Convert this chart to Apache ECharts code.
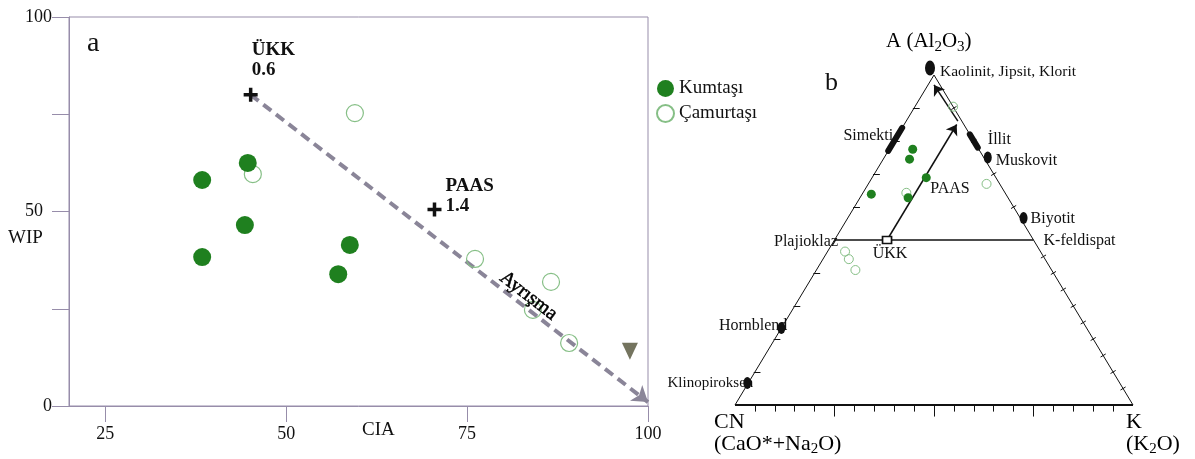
<!DOCTYPE html>
<html>
<head>
<meta charset="utf-8">
<script src="https://cdn.jsdelivr.net/npm/echarts@6/dist/echarts.min.js"></script>
<style>
  html, body { margin: 0; padding: 0; background: #ffffff; }
  #chart { width: 1195px; height: 459px; }
</style>
</head>
<body>
<div id="chart"></div>
<script>
// ---- Panel a: CIA vs WIP ----
const kumtasiCIA = [38.4, 44.7, 44.3, 38.4, 58.8, 57.2];
const kumtasiWIP = [58.1, 62.5, 46.5, 38.3, 41.4, 33.9];
const camurtasiCIA = [59.5, 45.4, 76.1, 86.6, 84.1, 89.1];
const camurtasiWIP = [75.3, 59.6, 37.8, 31.9, 24.7, 16.2];
const referenceNames = ['ÜKK', 'PAAS'];
const referenceValues = ['0.6', '1.4'];
const referenceCIA = [45.1, 70.5];
const referenceWIP = [80, 50.5];
const weatheringTrend = [[45.1, 80], [100, 1]];
const weatheringLabelAt = [83.5, 28.3];
const triangleMarker = [97.5, 14.1];
const ciaTicks = [25, 50, 75, 100];
const wipTicks = [0, 25, 50, 75, 100];
const wipLabels = [0, 50, 100];

// ---- Panel b: A-CN-K ternary, compositions as [A, CN, K] ----
const kumtasiACNK = [[77.5, 16.6, 5.9], [74.5, 18.9, 6.6], [68.9, 17.5, 13.6], [63.9, 33.8, 2.3], [62.8, 25.1, 12.1]];
const camurtasiACNK = [[64.3, 24.8, 10.9], [90.4, 0, 9.6], [67, 3.3, 29.7], [46.5, 49.1, 4.4], [44.2, 49.3, 6.5], [40.9, 49.3, 9.8]];
const mineralNames = ['Kaolinit, Jipsit, Klorit', 'Muskovit', 'Biyotit', 'Hornblend', 'Klinopiroksen'];
const mineralACNK = [[100, 0, 0], [75, 0, 25], [57, 0, 43], [23.3, 76.7, 0], [6.7, 93.3, 0]];
const barNames = ['Simekti', 'İllit'];
const barACNK = [[[77, 23, 0], [84, 16, 0]], [[78, 0, 22], [82, 0, 18]]];
const feldsparNames = ['Plajioklaz', 'K-feldispat'];
const feldsparACNK = [[50, 50, 0], [50, 0, 50]];
const ukkACNK = [50, 36.8, 13.2];
const paasLabelACNK = [65.5, 18.2, 16.3];
const trendACNK = [[[50, 36.8, 13.2], [85, 1.8, 13.2]], [[86, 1, 13], [97, 1.5, 1.5]]];
const vertexACNK = [[0, 100, 0], [100, 0, 0], [0, 0, 100]];

const SERIF = "'Liberation Serif', 'DejaVu Serif', 'Times New Roman', serif";
const AXIS = '#978daa';
const GREEN = '#1f801f';
const OPEN = '#86bf86';
const INK = '#111111';

// ternary [A, CN, K] -> cartesian [x, y] on a 0..100 square
function tern(p) {
  const s = p[0] + p[1] + p[2];
  return [(p[2] + p[0] / 2) / s * 100, p[0] / s * 100];
}

// ternary frame ticks
const tickSegs = [];
for (let p = 5; p <= 95; p += 5) {
  tickSegs.push({ coords: [[p, 0], [p, p % 25 === 0 ? -3.5 : -2]] });
}
for (let a = 10; a <= 90; a += 10) {
  if (a === 50) continue;
  const x = a / 2;
  tickSegs.push({ coords: [[x - 0.3, a], [x + 1.4, a]] });
}
[5, 10, 15, 20, 25, 30, 35, 40, 45, 60, 70, 80, 90].forEach(function (a) {
  const x = 100 - a / 2;
  tickSegs.push({ coords: [[x - 0.65, a - 0.47], [x + 0.65, a + 0.47]] });
});

const cn = tern(vertexACNK[0]), ap = tern(vertexACNK[1]), kk = tern(vertexACNK[2]);

const mineralSymbol = [
  { size: [10, 15], offset: [-4, -7] },
  { size: [8, 12], offset: [4, 0] },
  { size: [8, 12], offset: [4, 1] },
  { size: [8, 12], offset: [0, 0] },
  { size: [8, 12], offset: [-1, 0] }
];
const mineralLabel = [
  { position: 'right', distance: 6, offset: [0, -3], fontSize: 15.5 },
  { position: 'right', distance: 12, offset: [0, 3.5] },
  { position: 'right', distance: 11, offset: [0, 2] },
  { position: 'left', distance: -6, offset: [0, -2] },
  { position: 'left', distance: -5, offset: [0, 0], fontSize: 15 }
];

const barMid = barACNK.map(function (b) {
  return [(b[0][0] + b[1][0]) / 2, (b[0][1] + b[1][1]) / 2, (b[0][2] + b[1][2]) / 2];
});

const textLabels = mineralNames.map(function (n, i) {
  return { name: n, value: tern(mineralACNK[i]), label: mineralLabel[i] };
}).concat([
  { name: barNames[0], value: tern(barMid[0]), label: { position: 'left', distance: 2, offset: [0, -4] } },
  { name: barNames[1], value: tern(barMid[1]), label: { position: 'right', distance: 14, offset: [0, -1] } },
  { name: feldsparNames[0], value: tern(feldsparACNK[0]), label: { position: 'left', distance: -3.5, offset: [0, 2] } },
  { name: feldsparNames[1], value: tern(feldsparACNK[1]), label: { position: 'right', distance: 10, offset: [0, 1] } },
  { name: 'PAAS', value: tern(paasLabelACNK), label: { position: 'right', distance: 0, offset: [0, 0] } }
]);

const option = {
  backgroundColor: '#ffffff',
  animation: false,
  textStyle: { fontFamily: SERIF },
  legend: {
    data: ['Kumtaşı', 'Çamurtaşı'],
    orient: 'vertical',
    left: 651,
    top: 74,
    itemWidth: 17,
    itemHeight: 17,
    itemGap: 6,
    icon: 'circle',
    textStyle: { fontFamily: SERIF, fontSize: 19, color: INK }
  },
  grid: [
    { left: 69, top: 17, width: 579, height: 389, show: true, borderColor: AXIS, borderWidth: 1 },
    { left: 735, top: 75, width: 398, height: 330, show: false }
  ],
  xAxis: [
    {
      gridIndex: 0, type: 'value', min: 20, max: 100,
      axisLine: { show: true, lineStyle: { color: AXIS, width: 1 } },
      axisTick: { show: true, customValues: ciaTicks, length: 16, lineStyle: { color: AXIS } },
      axisLabel: { customValues: ciaTicks, margin: 19, fontFamily: SERIF, fontSize: 18, color: INK },
      splitLine: { show: false }
    },
    { gridIndex: 1, type: 'value', min: 0, max: 100, show: false }
  ],
  yAxis: [
    {
      gridIndex: 0, type: 'value', min: 0, max: 100,
      axisLine: { show: true, lineStyle: { color: AXIS, width: 1 } },
      axisTick: { show: true, customValues: wipTicks, length: 17, lineStyle: { color: AXIS } },
      axisLabel: {
        customValues: wipLabels, margin: 17, fontFamily: SERIF, fontSize: 18, color: INK,
        formatter: function (v) { return v === 50 ? '{s|50}' : String(v); },
        rich: { s: { fontFamily: SERIF, fontSize: 18, color: INK, padding: [0, 9, 0, 0] } }
      },
      splitLine: { show: false }
    },
    { gridIndex: 1, type: 'value', min: 0, max: 100, show: false }
  ],
  graphic: [
    { type: 'text', left: 87, top: 30, style: { text: 'a', font: '28px ' + SERIF, fill: INK } },
    { type: 'text', left: 8, top: 229, style: { text: 'WIP', font: '19px ' + SERIF, fill: INK } },
    { type: 'text', left: 362, top: 421, style: { text: 'CIA', font: '19px ' + SERIF, fill: INK } },
    { type: 'text', left: 825, top: 70, style: { text: 'b', font: '26px ' + SERIF, fill: INK } },
    {
      type: 'text', left: 886, top: 31,
      style: {
        text: '{n|A (Al}{s|2}{n|O}{s|3}{n|)}',
        rich: {
          n: { fontFamily: SERIF, fontSize: 21, color: INK },
          s: { fontFamily: SERIF, fontSize: 15, color: INK, padding: [12, 0, 0, 0] }
        }
      }
    },
    {
      type: 'text', left: 714, top: 411,
      style: {
        text: '{n|CN}\n{n|(CaO*+Na}{s|2}{n|O)}',
        rich: {
          n: { fontFamily: SERIF, fontSize: 22, color: INK, lineHeight: 22 },
          s: { fontFamily: SERIF, fontSize: 15, color: INK, lineHeight: 22, padding: [10, 0, 0, 0] }
        }
      }
    },
    {
      type: 'text', left: 1126, top: 411,
      style: {
        text: '{n|K}\n{n|(K}{s|2}{n|O)}',
        rich: {
          n: { fontFamily: SERIF, fontSize: 22, color: INK, lineHeight: 22 },
          s: { fontFamily: SERIF, fontSize: 15, color: INK, lineHeight: 22, padding: [10, 0, 0, 0] }
        }
      }
    }
  ],
  series: [
    // ---------- panel a ----------
    {
      name: 'Çamurtaşı', type: 'scatter', xAxisIndex: 0, yAxisIndex: 0, z: 3,
      symbol: 'circle', symbolSize: 17,
      itemStyle: { color: 'rgba(255,255,255,0)', borderColor: OPEN, borderWidth: 1.2, opacity: 1 },
      data: camurtasiCIA.map(function (x, i) { return [x, camurtasiWIP[i]]; })
    },
    {
      name: 'Kumtaşı', type: 'scatter', xAxisIndex: 0, yAxisIndex: 0, z: 4,
      symbol: 'circle', symbolSize: 18,
      itemStyle: { color: GREEN, opacity: 1 },
      data: kumtasiCIA.map(function (x, i) { return [x, kumtasiWIP[i]]; })
    },
    {
      type: 'lines', coordinateSystem: 'cartesian2d', xAxisIndex: 0, yAxisIndex: 0, z: 2,
      clip: false, silent: true,
      symbol: ['none', 'arrow'], symbolSize: 15,
      lineStyle: { color: '#8a8598', width: 4, type: [10, 6], opacity: 1 },
      data: [{ coords: weatheringTrend }]
    },
    {
      type: 'scatter', xAxisIndex: 0, yAxisIndex: 0, z: 6, silent: true,
      symbolSize: 0,
      itemStyle: { opacity: 1 },
      label: {
        show: true, position: 'inside', formatter: 'Ayrışma', rotate: -37.7,
        fontFamily: SERIF, fontSize: 20, color: '#000000', opacity: 1,
        textBorderColor: '#000000', textBorderWidth: 0.5
      },
      data: [weatheringLabelAt]
    },
    {
      type: 'scatter', xAxisIndex: 0, yAxisIndex: 0, z: 5, silent: true,
      symbol: 'path://M3,0H5V3H8V5H5V8H3V5H0V3H3Z', symbolSize: 14,
      itemStyle: { color: INK, opacity: 1 },
      label: {
        show: true, align: 'left', verticalAlign: 'top', lineHeight: 20,
        fontFamily: SERIF, fontWeight: 'bold', fontSize: 19, color: INK
      },
      data: referenceNames.map(function (n, i) {
        return {
          name: n,
          value: [referenceCIA[i], referenceWIP[i]],
          label: { formatter: n + '\n' + referenceValues[i], position: i === 0 ? [8, -48] : [18, -26] }
        };
      })
    },
    {
      type: 'scatter', xAxisIndex: 0, yAxisIndex: 0, z: 5, silent: true,
      symbol: 'triangle', symbolRotate: 180, symbolSize: [16, 17],
      itemStyle: { color: '#74745f', opacity: 1 },
      data: [triangleMarker]
    },

    // ---------- panel b ----------
    {
      type: 'line', xAxisIndex: 1, yAxisIndex: 1, clip: false, silent: true, z: 2,
      symbol: 'none', lineStyle: { color: INK, width: 1 },
      data: [cn, ap, kk]
    },
    {
      type: 'line', xAxisIndex: 1, yAxisIndex: 1, clip: false, silent: true, z: 2,
      symbol: 'none', lineStyle: { color: INK, width: 2 },
      data: [cn, kk]
    },
    {
      type: 'line', xAxisIndex: 1, yAxisIndex: 1, clip: false, silent: true, z: 2,
      symbol: 'none', lineStyle: { color: INK, width: 1.5 },
      data: feldsparACNK.map(tern)
    },
    {
      type: 'lines', coordinateSystem: 'cartesian2d', xAxisIndex: 1, yAxisIndex: 1, clip: false, silent: true, z: 2,
      lineStyle: { color: INK, width: 1, opacity: 1 },
      data: tickSegs
    },
    {
      type: 'scatter', xAxisIndex: 1, yAxisIndex: 1, z: 3, silent: true,
      symbolSize: 0,
      itemStyle: { opacity: 1 },
      label: { show: true, fontFamily: SERIF, fontSize: 16, color: INK, formatter: '{b}' },
      data: textLabels
    },
    {
      type: 'lines', coordinateSystem: 'cartesian2d', xAxisIndex: 1, yAxisIndex: 1, clip: false, silent: true, z: 4,
      lineStyle: { color: INK, width: 6, cap: 'round', opacity: 1 },
      data: barACNK.map(function (b) { return { coords: b.map(tern) }; })
    },
    {
      type: 'lines', coordinateSystem: 'cartesian2d', xAxisIndex: 1, yAxisIndex: 1, clip: false, silent: true, z: 4,
      symbol: ['none', 'arrow'], symbolSize: 10,
      lineStyle: { color: INK, width: 1.5, opacity: 1 },
      data: trendACNK.map(function (t) { return { coords: t.map(tern) }; })
    },
    {
      type: 'scatter', xAxisIndex: 1, yAxisIndex: 1, z: 4, silent: true,
      symbol: 'circle',
      itemStyle: { color: INK, opacity: 1 },
      data: mineralNames.map(function (n, i) {
        return {
          name: n,
          value: tern(mineralACNK[i]),
          symbolSize: mineralSymbol[i].size,
          symbolOffset: mineralSymbol[i].offset
        };
      })
    },
    {
      name: 'Çamurtaşı', type: 'scatter', xAxisIndex: 1, yAxisIndex: 1, z: 4,
      symbol: 'circle', symbolSize: 9,
      itemStyle: { color: 'rgba(255,255,255,0)', borderColor: OPEN, borderWidth: 1, opacity: 1 },
      data: camurtasiACNK.map(tern)
    },
    {
      name: 'Kumtaşı', type: 'scatter', xAxisIndex: 1, yAxisIndex: 1, z: 5,
      symbol: 'circle', symbolSize: 9,
      itemStyle: { color: GREEN, opacity: 1 },
      data: kumtasiACNK.map(tern)
    },
    {
      type: 'scatter', xAxisIndex: 1, yAxisIndex: 1, z: 5, silent: true,
      symbol: 'rect', symbolSize: [9, 7],
      itemStyle: { color: '#ffffff', borderColor: INK, borderWidth: 1.5, opacity: 1 },
      label: { show: true, position: 'bottom', distance: 1.5, offset: [3, 0], formatter: 'ÜKK', fontFamily: SERIF, fontSize: 16, color: INK },
      data: [tern(ukkACNK)]
    }
  ]
};

const chart = echarts.init(document.getElementById('chart'));
chart.setOption(option);
</script>
</body>
</html>
